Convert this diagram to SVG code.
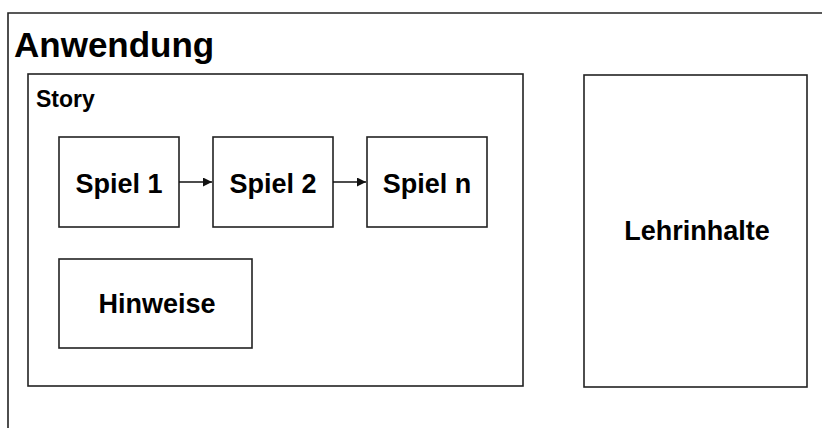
<svg xmlns="http://www.w3.org/2000/svg" width="822" height="428" viewBox="0 0 822 428">
<defs>
<style>
.box{fill:#fff;stroke:#222;stroke-width:1.6}
.t{font-family:"Liberation Sans",Arial,sans-serif;font-weight:bold;fill:#000}
.n{font-size:27px;text-anchor:middle}
.c{stroke:#111;stroke-width:1.4;fill:none}
</style>
<marker id="ah" viewBox="0 0 10 10" refX="10" refY="5" markerWidth="9" markerHeight="9" markerUnits="userSpaceOnUse" orient="auto"><path d="M0,0 L10,5 L0,10 z" fill="#111"/></marker>
</defs>
<rect width="822" height="428" fill="#fff"/>
<g id="anwendung">
<path d="M8,432 V13 H830" fill="none" stroke="#222" stroke-width="1.6"/>
<text class="t" x="14" y="57" font-size="35">Anwendung</text>
</g>
<g id="story">
<rect class="box" x="28" y="74" width="495" height="312"/>
<text class="t" x="36" y="107" font-size="23">Story</text>
</g>
<g id="spiel1">
<rect class="box" x="59" y="137" width="120" height="90"/>
<text class="t n" x="119" y="193">Spiel 1</text>
</g>
<g id="spiel2">
<rect class="box" x="213" y="137" width="120" height="90"/>
<text class="t n" x="273" y="193">Spiel 2</text>
</g>
<g id="spieln">
<rect class="box" x="367" y="137" width="120" height="90"/>
<text class="t n" x="427" y="193">Spiel n</text>
</g>
<g id="hinweise">
<rect class="box" x="59" y="259" width="193" height="89"/>
<text class="t n" x="157" y="313">Hinweise</text>
</g>
<g id="lehrinhalte">
<rect class="box" x="584" y="75" width="223" height="312"/>
<text class="t n" x="697" y="240">Lehrinhalte</text>
</g>
<g id="connectors">
<line class="c" x1="179" y1="182" x2="212" y2="182" marker-end="url(#ah)"/>
<line class="c" x1="333" y1="182" x2="366" y2="182" marker-end="url(#ah)"/>
</g>
</svg>
